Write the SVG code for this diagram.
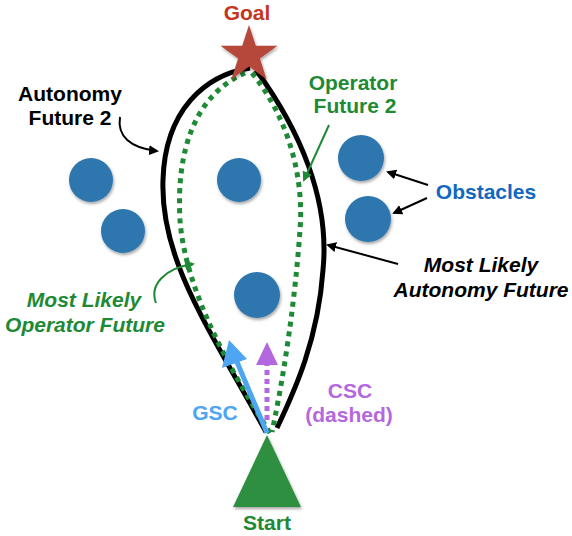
<svg xmlns="http://www.w3.org/2000/svg" width="572" height="536" viewBox="0 0 572 536">
<style>
.t{font-family:"Liberation Sans",Arial,sans-serif;font-weight:bold;font-size:21px}
.i{font-style:italic}
.obs{fill:#2e76ae}
.traj{fill:none;stroke-width:5}
.blk{stroke:#000}
.grn{stroke:#1e8a35;stroke-dasharray:5 5}
.lbl{fill:none;stroke-width:2}
</style>
<defs>
<filter id="sh" x="-20%" y="-20%" width="150%" height="150%"><feDropShadow dx="1" dy="2" stdDeviation="1.5" flood-opacity="0.35"/></filter>
<marker id="ak" markerWidth="10" markerHeight="10" refX="8" refY="5" orient="auto" markerUnits="userSpaceOnUse"><path d="M0,0 L10,5 L0,10 z" fill="#000"/></marker>
<marker id="ag" markerWidth="10" markerHeight="10" refX="8" refY="5" orient="auto" markerUnits="userSpaceOnUse"><path d="M0,0 L10,5 L0,10 z" fill="#1e8a35"/></marker>
</defs>
<rect width="572" height="536" fill="#fff"/>
<g id="obstacles" filter="url(#sh)">
<circle class="obs" cx="91" cy="180" r="22"/>
<circle class="obs" cx="123" cy="231" r="22"/>
<circle class="obs" cx="239" cy="180" r="22"/>
<circle class="obs" cx="361" cy="158" r="23"/>
<circle class="obs" cx="368" cy="219" r="23"/>
<circle class="obs" cx="257" cy="295" r="23"/>
</g>
<g id="connectors">
<path class="traj blk" d="M266 432 C210 330,160 260,163 180 C165 110,205 75,250 68"/>
<path class="traj blk" d="M256 70 C300 130,330 200,323 270 C318 340,295 390,277 428"/>
<path class="traj grn" d="M270 433 C230 370,185 290,180 220 C176 150,195 95,245 73"/>
<path class="traj grn" d="M252 73 C290 120,304 180,300 230 C295 300,285 370,272 432"/>
<line x1="267" y1="420" x2="267" y2="364" stroke="#b368e0" stroke-width="5" stroke-dasharray="5 4"/>
<polygon points="267,342 256,365 278,365" fill="#b368e0"/>
<line x1="267" y1="433" x2="237" y2="362" stroke="#4ea5f2" stroke-width="5"/>
<polygon points="229,340 222,368 247,359" fill="#4ea5f2"/>
<path class="lbl" stroke="#000" d="M120 117 C117 136,130 148,157 151" marker-end="url(#ak)"/>
<line class="lbl" stroke="#1e8a35" x1="329" y1="125" x2="304" y2="180" marker-end="url(#ag)"/>
<line class="lbl" stroke="#000" x1="428" y1="185" x2="388" y2="172" marker-end="url(#ak)"/>
<line class="lbl" stroke="#000" x1="427" y1="198" x2="394" y2="213" marker-end="url(#ak)"/>
<line class="lbl" stroke="#000" x1="398" y1="264" x2="328" y2="245" marker-end="url(#ak)"/>
<path class="lbl" stroke="#1e8a35" d="M156 303 C149 285,165 268,193 264" marker-end="url(#ag)"/>
</g>
<g id="goal">
<polygon filter="url(#sh)" fill="#b5473a" points="249,25 255.8,45.7 277.5,45.7 259.9,58.6 266.6,79.3 249,66.5 231.4,79.3 238.1,58.6 220.5,45.7 242.2,45.7"/>
<text class="t" x="247" y="20" text-anchor="middle" fill="#c4361f">Goal</text>
</g>
<g id="start">
<polygon filter="url(#sh)" fill="#2f8f3f" points="267,435 233,507 301,507"/>
<text class="t" x="267" y="530" text-anchor="middle" fill="#1e8a35">Start</text>
</g>
<g id="label-autonomy2">
<text class="t" x="70" y="101" text-anchor="middle" fill="#000">Autonomy</text>
<text class="t" x="70" y="125" text-anchor="middle" fill="#000">Future 2</text>
</g>
<g id="label-operator2">
<text class="t" x="353" y="90" text-anchor="middle" fill="#1e8a35">Operator</text>
<text class="t" x="355" y="113" text-anchor="middle" fill="#1e8a35">Future 2</text>
</g>
<g id="label-obstacles">
<text class="t" x="486" y="199" text-anchor="middle" fill="#1268c0">Obstacles</text>
</g>
<g id="label-mlaf">
<text class="t i" x="481" y="272" text-anchor="middle" fill="#000">Most Likely</text>
<text class="t i" x="481" y="297" text-anchor="middle" fill="#000">Autonomy Future</text>
</g>
<g id="label-mlof">
<text class="t i" x="84" y="307" text-anchor="middle" fill="#1e8a35">Most Likely</text>
<text class="t i" x="85" y="332" text-anchor="middle" fill="#1e8a35">Operator Future</text>
</g>
<g id="label-gsc">
<text class="t" x="215" y="420" text-anchor="middle" fill="#4ea5f2">GSC</text>
</g>
<g id="label-csc">
<text class="t" x="350" y="398" text-anchor="middle" fill="#b368e0">CSC</text>
<text class="t" x="349" y="422" text-anchor="middle" fill="#b368e0">(dashed)</text>
</g>
</svg>
